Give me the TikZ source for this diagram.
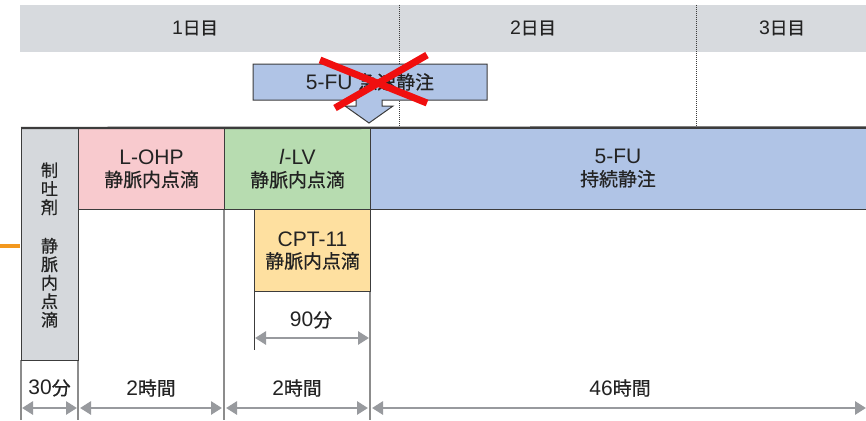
\documentclass[tikz,border=0pt]{standalone}
\usepackage{fontspec}
\setmainfont{Liberation Sans}
\newfontfamily\jp[Scale=0.9,FakeBold=0.6]{Noto Sans CJK JP}
\usetikzlibrary{arrows.meta}
\definecolor{hdr}{RGB}{215,218,222}
\definecolor{grbox}{RGB}{213,216,220}
\definecolor{pinkbox}{RGB}{248,202,206}
\definecolor{greenbox}{RGB}{183,220,176}
\definecolor{bluebox}{RGB}{176,196,230}
\definecolor{orangebox}{RGB}{254,224,160}
\definecolor{dimgray}{RGB}{152,154,158}
\definecolor{sepgray}{RGB}{140,140,140}
\definecolor{edge}{RGB}{60,60,60}
\definecolor{txt}{RGB}{35,35,35}
\definecolor{xred}{RGB}{240,15,15}
\definecolor{strayorange}{RGB}{243,152,30}
\tikzset{
  cell/.style={draw=edge, line width=1.1pt, anchor=north west, inner sep=0pt,
    align=center, text=txt, font=\fontsize{21}{23}\selectfont},
  hdrtext/.style={text=txt, font=\fontsize{19.5}{22}\selectfont},
  lbl/.style={text=txt, font=\fontsize{21}{23}\selectfont},
  dimarrow/.style={draw=dimgray, line width=2.8pt,
    {Triangle[length=11pt,width=13pt]}-{Triangle[length=11pt,width=13pt]}},
  sepline/.style={draw=sepgray, line width=1.4pt},
  dayline/.style={draw=edge, line width=1pt, densely dotted},
}
\begin{document}
\begin{tikzpicture}[x=1pt,y=-1pt]
\useasboundingbox (0,0) rectangle (866,420);
% header band
\fill[hdr] (20,5) rectangle (866,52);
\node[hdrtext] (d1) at (195,28) {1\jp{日目}};
\node[hdrtext] (d2) at (533,28) {2\jp{日目}};
\node[hdrtext] (d3) at (782,28) {3\jp{日目}};
% day separators
\coordinate (s1t) at (399,5); \coordinate (s1b) at (399,126);
\coordinate (s2t) at (696,5); \coordinate (s2b) at (696,126);
\draw[dayline] (s1t) -- (s1b);
\draw[dayline] (s2t) -- (s2b);
% crossed-out bolus arrow
\draw[fill=bluebox, draw=edge, line width=1pt]
  (253,64) -- (487,64) -- (487,100) -- (382,100) -- (382,106) -- (393,106)
  -- (369,123) -- (345,106) -- (356,106) -- (356,100) -- (253,100) -- cycle;
\node[lbl] (bolus) at (370,82) {5-FU\ \jp{急速静注}};
\draw[xred, line width=7pt] (320,60) -- (427,103);
\draw[xred, line width=7pt] (427,55) -- (335,108);
% lower separator lines
\draw[sepline] (21,360) -- (21,420);
\draw[sepline] (78,360) -- (78,420);
\draw[sepline] (224,209) -- (224,420);
\draw[sepline] (370,291) -- (370,420);
\draw[draw=edge, line width=1pt] (254,291) -- (254,350);
% main row
\node[cell, fill=grbox, minimum width=57pt, minimum height=232pt] (anti) at (21,128) {};
\node[text=txt, align=center, font=\jp\fontsize{19}{18.5}\selectfont] (antitext) at (49.5,245)
  {制\\吐\\剤\\[20pt]静\\脈\\内\\点\\滴};
\node[cell, fill=pinkbox, minimum width=146pt, minimum height=81pt] (lohp) at (78,128)
  {L-OHP\\[-1pt]{\jp 静脈内点滴}};
\node[cell, fill=greenbox, minimum width=146pt, minimum height=81pt] (llv) at (224,128)
  {\textit{l}-LV\\[-1pt]{\jp 静脈内点滴}};
\begin{scope}
\clip (0,0) rectangle (866,420);
\node[cell, fill=bluebox, minimum width=500pt, minimum height=81pt] (fu) at (370,128) {};
\end{scope}
\node[lbl, align=center] (futext) at (618,168.5) {5-FU\\[-1pt]{\jp 持続静注}};
\node[cell, fill=orangebox, minimum width=116pt, minimum height=82pt] (cpt) at (254,209)
  {CPT-11\\[-1pt]{\jp 静脈内点滴}};
\draw[draw=edge, line width=2.4pt] (anti.north west) -- (866,127.5);
% 90 min
\node[lbl] (t90) at (311,320) {90\jp{分}};
\coordinate (a90l) at (255,338); \coordinate (a90r) at (369,338);
\draw[dimarrow] (a90l) -- (a90r);
% bottom durations
\node[lbl] (t30) at (49.5,388) {30\jp{分}};
\node[lbl] (t2a) at (151,388) {2\jp{時間}};
\node[lbl] (t2b) at (297,388) {2\jp{時間}};
\node[lbl] (t46) at (620,388) {46\jp{時間}};
\coordinate (b0) at (22,408); \coordinate (b1l) at (77,408);
\coordinate (b1r) at (80,408); \coordinate (b2l) at (222,408);
\coordinate (b2r) at (226,408); \coordinate (b3l) at (368,408);
\coordinate (b3r) at (372,408); \coordinate (b4) at (866,408);
\draw[dimarrow] (b0) -- (b1l);
\draw[dimarrow] (b1r) -- (b2l);
\draw[dimarrow] (b2r) -- (b3l);
\draw[dimarrow] (b3r) -- (b4);
% stray orange mark
\coordinate (o1) at (0,246); \coordinate (o2) at (20,246);
\draw[strayorange, line width=3.5pt] (o1) -- (o2);
\end{tikzpicture}
\end{document}
